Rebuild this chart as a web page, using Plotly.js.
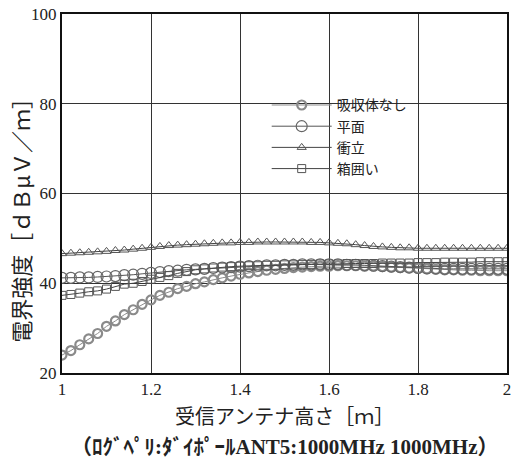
<!DOCTYPE html>
<html>
<head>
<meta charset="utf-8">
<script src="https://cdn.plot.ly/plotly-3.0.1.min.js"></script>
<style>html,body{margin:0;padding:0;background:#fff;}#chart{width:511px;height:470px;}</style>
</head>
<body>
<div id="chart"></div>
<script>
// Receiving antenna height [m]
const heights = [1.00,1.02,1.04,1.06,1.08,1.10,1.12,1.14,1.16,1.18,1.20,1.22,1.24,1.26,1.28,1.30,1.32,1.34,1.36,1.38,1.40,1.42,1.44,1.46,1.48,1.50,1.52,1.54,1.56,1.58,1.60,1.62,1.64,1.66,1.68,1.70,1.72,1.74,1.76,1.78,1.80,1.82,1.84,1.86,1.88,1.90,1.92,1.94,1.96,1.98,2.00];

const seriesNames = ["吸収体なし","平面","衝立","箱囲い"];

// 吸収体なし (no absorber)
const noAbsorber = [24.0,25.0,26.3,27.6,28.8,30.4,31.6,33.0,34.1,35.3,36.3,37.3,38.0,38.8,39.3,39.9,40.3,40.8,41.2,41.6,42.0,42.3,42.6,42.9,43.1,43.3,43.5,43.6,43.7,43.8,43.8,43.9,43.9,43.9,43.8,43.8,43.7,43.6,43.5,43.4,43.3,43.2,43.1,43.0,43.0,42.9,42.9,42.8,42.8,42.8,42.8];
// 平面 (flat)
const flat = [41.2,41.2,41.3,41.3,41.4,41.5,41.6,41.8,41.9,42.1,42.3,42.5,42.7,42.8,43.0,43.1,43.2,43.4,43.5,43.6,43.7,43.8,43.9,44.0,44.0,44.1,44.1,44.2,44.2,44.2,44.2,44.2,44.1,44.1,44.0,43.9,43.8,43.7,43.6,43.5,43.4,43.3,43.3,43.2,43.2,43.2,43.2,43.2,43.2,43.2,43.2];
// 衝立 (screen)
const screen = [46.6,46.7,46.8,46.9,47.0,47.1,47.3,47.4,47.6,47.8,48.0,48.2,48.4,48.5,48.6,48.7,48.8,48.9,49.0,49.0,49.1,49.1,49.2,49.2,49.2,49.2,49.2,49.2,49.1,49.1,49.0,48.9,48.8,48.6,48.4,48.2,48.1,48.0,47.9,47.9,47.8,47.8,47.8,47.8,47.8,47.8,47.8,47.8,47.8,47.8,47.8];
// 箱囲い (box enclosure)
const box = [37.3,37.5,37.8,38.1,38.3,38.7,39.3,39.8,40.0,40.4,40.9,41.3,41.7,42.2,42.6,43.0,43.2,43.4,43.6,43.7,43.8,43.9,43.9,44.0,44.0,44.1,44.1,44.2,44.2,44.3,44.3,44.3,44.4,44.4,44.4,44.4,44.5,44.5,44.5,44.5,44.6,44.6,44.6,44.7,44.7,44.7,44.7,44.8,44.8,44.8,44.8];

const xTicks = [1,1.2,1.4,1.6,1.8,2];
const xTickText = ["1","1.2","1.4","1.6","1.8","2"];
const yTicks = [20,40,60,80,100];

const cjk = "Noto Sans CJK JP";
const serif = "Liberation Serif, DejaVu Serif, serif";

const traces = [
  {x: heights, y: noAbsorber, name: seriesNames[0], mode: "lines+markers",
   line: {color: "#8a8a8a", width: 1},
   marker: {symbol: "circle-open", size: 9, color: "#8a8a8a", line: {width: 2.2, color: "#8a8a8a"}}},
  {x: heights, y: flat, name: seriesNames[1], mode: "lines+markers",
   line: {color: "#555", width: 1},
   marker: {symbol: "circle-open", size: 11, color: "#666", line: {width: 1.2, color: "#666"}}},
  {x: heights, y: screen, name: seriesNames[2], mode: "lines+markers",
   line: {color: "#444", width: 1},
   marker: {symbol: "triangle-up-open", size: 8, color: "#555", line: {width: 1, color: "#555"}}},
  {x: heights, y: box, name: seriesNames[3], mode: "lines+markers",
   line: {color: "#444", width: 1},
   marker: {symbol: "square-open", size: 8, color: "#555", line: {width: 1, color: "#555"}}}
];

const layout = {
  width: 511, height: 470,
  margin: {l: 62, r: 4, t: 14, b: 97},
  paper_bgcolor: "#fff", plot_bgcolor: "#fff",
  showlegend: true,
  legend: {x: 0.46, y: 0.79, xanchor: "left", yanchor: "top",
    bgcolor: "rgba(0,0,0,0)", font: {family: cjk, size: 14, color: "#222"},
    itemwidth: 60, tracegroupgap: 0},
  xaxis: {range: [1, 2], tickvals: xTicks, ticktext: xTickText,
    showgrid: true, gridcolor: "#333", gridwidth: 1,
    showline: true, linecolor: "#111", linewidth: 2, mirror: true,
    ticks: "", zeroline: false, ticklabeloverflow: "allow",
    tickfont: {family: serif, size: 17, color: "#222"}},
  yaxis: {range: [20, 100], tickvals: yTicks,
    showgrid: true, gridcolor: "#333", gridwidth: 1,
    showline: true, linecolor: "#111", linewidth: 2, mirror: true,
    ticks: "", zeroline: false,
    tickfont: {family: serif, size: 17, color: "#222"}},
  annotations: [
    {text: "電界強度［ｄＢμＶ／ｍ］", textangle: -90, xref: "paper", yref: "paper",
     x: -0.095, y: 0.44, xanchor: "center", yanchor: "middle", showarrow: false,
     font: {family: cjk, size: 22, color: "#222"}},
    {text: "受信アンテナ高さ［ｍ］", xref: "paper", yref: "paper",
     x: 0.5, y: -0.117, xanchor: "center", yanchor: "middle", showarrow: false,
     font: {family: cjk, size: 20, color: "#222"}},
    {text: "<b>（ﾛｸﾞﾍﾟﾘ:ﾀﾞｲﾎﾟｰﾙANT5:1000MHz 1000MHz）</b>", xref: "paper", yref: "paper",
     x: 0.5, y: -0.205, xanchor: "center", yanchor: "middle", showarrow: false,
     font: {family: "Liberation Serif, Noto Sans CJK JP", size: 21, color: "#222"}}
  ]
};

Plotly.newPlot("chart", traces, layout, {displayModeBar: false, staticPlot: true});
</script>
</body>
</html>
